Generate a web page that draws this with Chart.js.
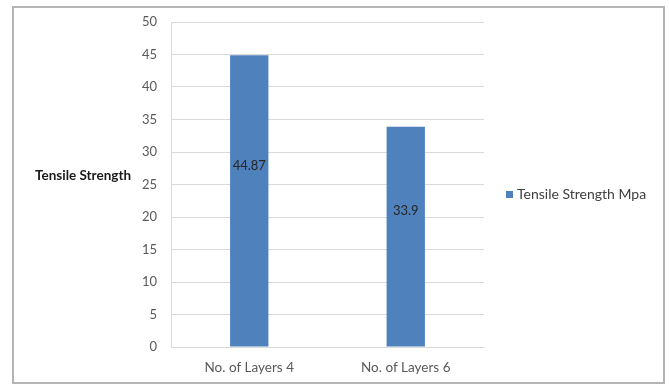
<!DOCTYPE html>
<html>
<head>
<meta charset="utf-8">
<script src="https://cdn.jsdelivr.net/npm/chart.js@4/dist/chart.umd.min.js"></script>
<style>
  html, body { margin: 0; padding: 0; background: #fff; }
  #wrap { position: relative; width: 669px; height: 385px; }
  #frame { position: absolute; left: 12px; top: 6px; width: 649px; height: 374px; border: 2px solid #b4b4b4; box-sizing: content-box; pointer-events: none; }
  canvas { position: absolute; left: 0; top: 0; }
</style>
</head>
<body>
<div id="wrap">
  <canvas id="c" width="669" height="385"></canvas>
  <div id="frame"></div>
</div>
<script>
// Tensile strength by number of layers
const categories = ['No. of Layers 4', 'No. of Layers 6'];
const strengthMpa = [44.87, 33.9];
const seriesName = 'Tensile Strength Mpa';
const axisTitle = 'Tensile Strength';
const yMin = 0, yMax = 50, yStep = 5;

const FONT = 'Lato, "Liberation Sans", Arial, sans-serif';
const BAR_COLOR = '#4f81bd';

// Horizontal y-axis title, in-bar value labels and the legend entry
const extras = {
  id: 'extras',
  afterDatasetsDraw(chart) {
    const ctx = chart.ctx;
    const y = chart.scales.y;
    const area = chart.chartArea;
    ctx.save();

    // axis title, written horizontally to the left of the ticks
    ctx.font = 'bold 13.5px ' + FONT;
    ctx.fillStyle = '#1a1a1a';
    ctx.textAlign = 'center';
    ctx.textBaseline = 'middle';
    ctx.fillText(axisTitle, 83, 176);

    // value labels inside the bars
    const meta = chart.getDatasetMeta(0);
    ctx.font = '13px ' + FONT;
    ctx.fillStyle = '#262626';
    meta.data.forEach((bar, i) => {
      const v = chart.data.datasets[0].data[i];
      ctx.fillText(String(v), bar.x, y.getPixelForValue(v * 0.62));
    });

    // legend entry
    const ds = chart.data.datasets[0];
    const midY = (area.top + area.bottom) / 2 + 10;
    ctx.fillStyle = ds.backgroundColor;
    ctx.fillRect(506, midY - 3.5, 7, 7);
    ctx.font = '14px ' + FONT;
    ctx.fillStyle = '#404040';
    ctx.textAlign = 'left';
    ctx.fillText(ds.label, 517, midY);
    ctx.restore();
  }
};

new Chart(document.getElementById('c'), {
  type: 'bar',
  data: {
    labels: categories,
    datasets: [{
      label: seriesName,
      data: strengthMpa,
      backgroundColor: BAR_COLOR,
      borderWidth: 0,
      categoryPercentage: 1.0,
      barPercentage: 0.245
    }]
  },
  options: {
    responsive: false,
    animation: false,
    events: [],
    layout: { padding: { left: 0, right: 185, top: 22, bottom: 0 } },
    plugins: {
      legend: { display: false },
      tooltip: { enabled: false }
    },
    scales: {
      x: {
        grid: { display: false, drawTicks: false },
        border: { display: true, color: '#d9d9d9', width: 1 },
        ticks: { color: '#595959', font: { family: FONT, size: 13.5 }, padding: 13, maxRotation: 0 },
        afterFit(s) { s.height = 38; }
      },
      y: {
        min: yMin,
        max: yMax,
        grid: { color: '#d9d9d9', lineWidth: 1, drawTicks: false },
        border: { display: true, color: '#d9d9d9', width: 1 },
        ticks: { stepSize: yStep, color: '#595959', font: { family: FONT, size: 13 }, padding: 14 },
        afterFit(s) { s.width = 171; }
      }
    }
  },
  plugins: [extras]
});
</script>
</body>
</html>
